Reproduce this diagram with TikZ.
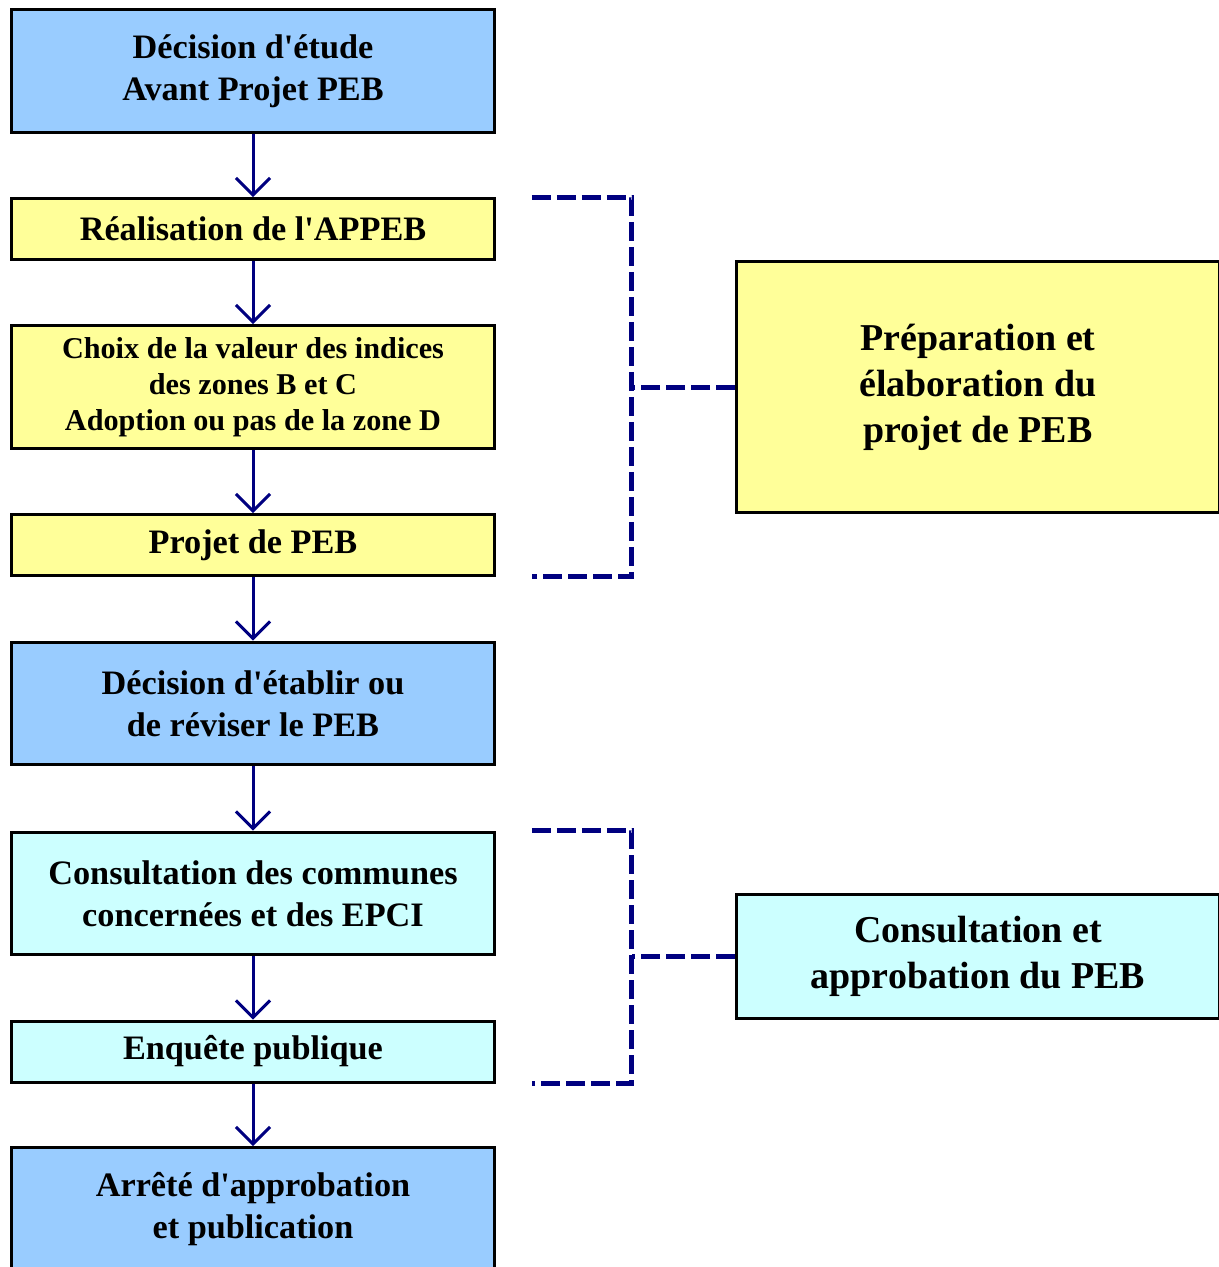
\documentclass[tikz,border=0pt]{standalone}
\usepackage{fontspec}
\setmainfont{Liberation Serif}
\usetikzlibrary{arrows.meta}

\definecolor{etapebleu}{HTML}{99CCFF}
\definecolor{etapejaune}{HTML}{FFFF99}
\definecolor{etapecyan}{HTML}{CCFFFF}
\definecolor{marine}{HTML}{000080}

\begin{document}
\begin{tikzpicture}[x=0.02cm, y=-0.02cm,
	etape/.style={draw=black, line width=0.06cm, minimum width=9.66cm, inner sep=0pt, align=center, font=\bfseries\fontsize{19.5}{23.9}\selectfont},
	haute/.style={etape, minimum height=2.46cm},
	basse/.style={etape, minimum height=1.22cm},
	phase/.style={etape, font=\bfseries\fontsize{21.6}{26.2}\selectfont},
	fleche/.style={-{Straight Barb[length=0.34cm, width=0.68cm]}, line width=0.06cm, marine},
	crochet/.style={line width=0.1cm, marine, dash pattern=on 0.38cm off 0.12cm}]
		\useasboundingbox (0,0) rectangle (1218,1267);

		\node[haute, fill=etapebleu] (decision) at (253,71) {D\'ecision d\textquotesingle\'etude\\Avant Projet PEB};
		\node[basse, fill=etapejaune] (appeb) at (253,229) {R\'ealisation de l\textquotesingle APPEB};
		\node[haute, fill=etapejaune, font=\bfseries\fontsize{17.2}{20.5}\selectfont] (indices) at (253,387) {Choix de la valeur des indices\\des zones B et C\\Adoption ou pas de la zone D};
		\node[basse, fill=etapejaune] (projet) at (253,545) {Projet de PEB};
		\node[haute, fill=etapebleu] (etablir) at (253,703.5) {D\'ecision d\textquotesingle\'etablir ou\\de r\'eviser le PEB};
		\node[haute, fill=etapecyan] (communes) at (253,893.5) {Consultation des communes\\concern\'ees et des EPCI};
		\node[basse, fill=etapecyan] (enquete) at (253,1051.5) {Enqu\^ete publique};
		\node[haute, fill=etapebleu] (arrete) at (253,1209) {Arr\^et\'e d\textquotesingle approbation\\et publication};

		\node[phase, fill=etapejaune, minimum height=5.02cm] (prep) at (978,387) {Pr\'eparation et\\\'elaboration du\\projet de PEB};
		\node[phase, fill=etapecyan, minimum height=2.48cm] (consult) at (978,956.5) {Consultation et\\approbation du PEB};

		\draw[fleche] (decision) -- (appeb);
		\draw[fleche] (appeb) -- (indices);
		\draw[fleche] (indices) -- (projet);
		\draw[fleche] (projet) -- (etablir);
		\draw[fleche] (etablir) -- (communes);
		\draw[fleche] (communes) -- (enquete);
		\draw[fleche] (enquete) -- (arrete);

		\draw[crochet] ([xshift=0.72cm]appeb.north east) -- ++(100,0) coordinate (coin1) -- (coin1 |- projet.south east) -- ([xshift=0.72cm]projet.south east);
		\draw[crochet] (prep.west) -- (prep.west -| coin1);
		\draw[crochet] ([xshift=0.72cm]communes.north east) -- ++(100,0) coordinate (coin2) -- (coin2 |- enquete.south east) -- ([xshift=0.72cm]enquete.south east);
		\draw[crochet] (consult.west) -- (consult.west -| coin2);
	\end{tikzpicture}
\end{document}
